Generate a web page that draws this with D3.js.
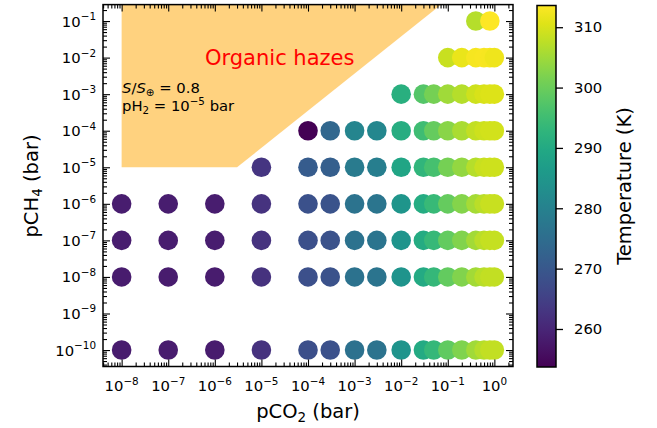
<!DOCTYPE html>
<html><head><meta charset="utf-8">
<script src="https://cdn.jsdelivr.net/npm/d3@7"></script>
<style>body{margin:0;background:#fff}svg{display:block}text{font-family:"DejaVu Sans",sans-serif}</style>
</head><body>
<svg id="c" width="657" height="428"></svg>
<script>
// ---- data ----
const pCO2 = [1e-8, 1e-7, 1e-6, 1e-5, 1e-4, 3e-4, 1e-3, 3e-3, 1e-2, 3e-2, 5e-2, 0.1, 0.2, 0.4, 0.6, 0.8, 1.0];
const pCH4 = [1e-1, 1e-2, 1e-3, 1e-4, 1e-5, 1e-6, 1e-7, 1e-8, 1e-10];
const N = null;
const T_CH4_1e1  = [N,N,N,N,N,N,N,N,N,N,N,N,N, 307.0, N, 313.6, N];
const T_CH4_1e2  = [N,N,N,N,N,N,N,N,N,N,N, 308.5, 311.5, 312.8, 313.0, 312.8, 312.0];
const T_CH4_1e3  = [N,N,N,N,N,N,N,N, 291.5, 297.5, 301.0, 305.0, 307.0, 309.0, 310.0, 310.5, 310.5];
const T_CH4_1e4  = [N,N,N,N, 253.7, 273.5, 281.0, 281.5, 291.0, 295.0, 299.5, 303.0, 306.0, 308.0, 309.0, 309.5, 309.5];
const T_CH4_1e5  = [N,N,N, 263.0, 271.0, 271.5, 278.5, 279.0, 289.0, 293.0, 296.0, 301.0, 304.0, 307.0, 308.5, 309.0, 309.0];
const T_CH4_1e6  = [258.5, 258.5, 258.5, 262.5, 268.5, 269.0, 276.5, 277.0, 285.0, 290.5, 294.0, 299.5, 302.5, 305.5, 307.5, 308.5, 308.5];
const T_CH4_1e7  = [258.4, 258.4, 258.4, 262.4, 268.4, 268.8, 276.3, 276.8, 284.8, 290.3, 293.8, 299.3, 302.3, 305.3, 307.3, 308.3, 308.3];
const T_CH4_1e8  = [258.3, 258.3, 258.3, 262.3, 268.3, 268.7, 276.2, 276.7, 284.7, 290.2, 293.7, 299.2, 302.2, 305.2, 307.2, 308.2, 308.2];
const T_CH4_1e10 = [258.2, 258.2, 258.2, 262.2, 268.2, 268.6, 276.1, 276.6, 284.6, 290.0, 293.5, 299.0, 302.0, 305.0, 307.0, 308.0, 308.0];
const tempRows = [T_CH4_1e1, T_CH4_1e2, T_CH4_1e3, T_CH4_1e4, T_CH4_1e5, T_CH4_1e6, T_CH4_1e7, T_CH4_1e8, T_CH4_1e10];
const hazeX = [1e-8, 3e-6, 0.25, 1e-8];
const hazeY = [1e-5, 1e-5, 1, 1];
const xTickExp = [-8, -7, -6, -5, -4, -3, -2, -1, 0];
const yTickExp = [-1, -2, -3, -4, -5, -6, -7, -8, -9, -10];
const cbTicks = [260, 270, 280, 290, 300, 310];
const tRange = [253.7, 313.6];

// ---- layout ----
const svg = d3.select("#c");
const L = 103, R = 513, T = 4.6, B = 366.5;
const x = d3.scaleLog().domain([Math.pow(10, -8.4), Math.pow(10, 0.4)]).range([L, R]);
const y = d3.scaleLog().domain([Math.pow(10, -10.45), Math.pow(10, -0.55)]).range([B, T]);
const color = d3.scaleSequential(d3.interpolateViridis).domain(tRange);

svg.append("clipPath").attr("id", "clip").append("rect")
  .attr("x", L).attr("y", T).attr("width", R - L).attr("height", B - T);

// haze region
svg.append("path").attr("clip-path", "url(#clip)")
  .attr("d", d3.line().x(d => x(d[0])).y(d => y(d[1]))(hazeX.map((v, i) => [v, hazeY[i]])) + "Z")
  .attr("fill", "#FFA500").attr("fill-opacity", 0.5);

// points
const pts = [];
pCH4.forEach((ch4, r) => pCO2.forEach((co2, c) => {
  const t = tempRows[r][c];
  if (t !== null) pts.push({co2, ch4, t});
}));
svg.append("g").attr("clip-path", "url(#clip)").selectAll("circle").data(pts).join("circle")
  .attr("cx", d => x(d.co2)).attr("cy", d => y(d.ch4)).attr("r", 9.8)
  .attr("fill", d => color(d.t));

// text annotations
svg.append("text").attr("x", 205).attr("y", 65).attr("fill", "red").attr("font-size", 21).text("Organic hazes");
const t1 = svg.append("text").attr("x", 122).attr("y", 93).attr("font-size", 14.8);
t1.append("tspan").attr("font-style", "italic").text("S");
t1.append("tspan").text("/");
t1.append("tspan").attr("font-style", "italic").text("S");
t1.append("tspan").attr("font-size", 10.3).attr("dy", 3).text("⊕");
t1.append("tspan").attr("dy", -3).text(" = 0.8");
const t2 = svg.append("text").attr("x", 122).attr("y", 111).attr("font-size", 14.8);
t2.append("tspan").text("pH");
t2.append("tspan").attr("font-size", 10.3).attr("dy", 3).text("2");
t2.append("tspan").attr("dy", -3).text(" = 10");
t2.append("tspan").attr("font-size", 10.3).attr("dy", -6).text("−5");
t2.append("tspan").attr("dy", 6).text(" bar");

// minor ticks
function minors(lo, hi) {
  const out = [];
  for (let d = lo; d <= hi; d++) for (let k = 2; k <= 9; k++) out.push(k * Math.pow(10, d));
  return out;
}
const xMin = minors(-9, 0).filter(v => v >= x.domain()[0] && v <= x.domain()[1]);
const yMin = minors(-11, -1).filter(v => v >= y.domain()[0] && v <= y.domain()[1]);
const xMaj = xTickExp.map(e => Math.pow(10, e));
const yMaj = yTickExp.map(e => Math.pow(10, e));

function styleAxis(g) { g.select(".domain").remove(); g.selectAll("line").attr("stroke", "#000").attr("stroke-width", 1.1); g.selectAll("text").remove(); }
svg.append("g").attr("transform", `translate(0,${B})`).call(d3.axisBottom(x).tickValues(xMaj).tickSize(-7).tickFormat("")).call(styleAxis);
svg.append("g").attr("transform", `translate(0,${B})`).call(d3.axisBottom(x).tickValues(xMin).tickSize(-4).tickFormat("")).call(styleAxis);
svg.append("g").attr("transform", `translate(0,${T})`).call(d3.axisTop(x).tickValues(xMaj).tickSize(-7).tickFormat("")).call(styleAxis);
svg.append("g").attr("transform", `translate(0,${T})`).call(d3.axisTop(x).tickValues(xMin).tickSize(-4).tickFormat("")).call(styleAxis);
svg.append("g").attr("transform", `translate(${L},0)`).call(d3.axisLeft(y).tickValues(yMaj).tickSize(-7).tickFormat("")).call(styleAxis);
svg.append("g").attr("transform", `translate(${L},0)`).call(d3.axisLeft(y).tickValues(yMin).tickSize(-4).tickFormat("")).call(styleAxis);
svg.append("g").attr("transform", `translate(${R},0)`).call(d3.axisRight(y).tickValues(yMaj).tickSize(-7).tickFormat("")).call(styleAxis);
svg.append("g").attr("transform", `translate(${R},0)`).call(d3.axisRight(y).tickValues(yMin).tickSize(-4).tickFormat("")).call(styleAxis);

// tick labels
xTickExp.forEach(e => {
  const tx = svg.append("text").attr("x", x(Math.pow(10, e))).attr("y", 391).attr("text-anchor", "middle").attr("font-size", 14.8);
  tx.append("tspan").text("10");
  tx.append("tspan").attr("font-size", 10.4).attr("dy", -6.5).text(e < 0 ? "−" + (-e) : String(e));
});
yTickExp.forEach(e => {
  const ty = svg.append("text").attr("x", 96).attr("y", y(Math.pow(10, e)) + 5.5).attr("text-anchor", "end").attr("font-size", 14.8);
  ty.append("tspan").text("10");
  ty.append("tspan").attr("font-size", 10.4).attr("dy", -6.5).text("−" + (-e));
});

// frame
svg.append("rect").attr("x", L).attr("y", T).attr("width", R - L).attr("height", B - T)
  .attr("fill", "none").attr("stroke", "#000").attr("stroke-width", 1.5);

// axis labels
const xl = svg.append("text").attr("x", 308).attr("y", 418).attr("text-anchor", "middle").attr("font-size", 19.5);
xl.append("tspan").text("pCO");
xl.append("tspan").attr("font-size", 13.5).attr("dy", 4).text("2");
xl.append("tspan").attr("dy", -4).text(" (bar)");
const yl = svg.append("text").attr("transform", "translate(38,186) rotate(-90)").attr("text-anchor", "middle").attr("font-size", 19.5);
yl.append("tspan").text("pCH");
yl.append("tspan").attr("font-size", 13.5).attr("dy", 4).text("4");
yl.append("tspan").attr("dy", -4).text(" (bar)");

// colorbar
const cbL = 537, cbW = 19, cbT = 5.5, cbB = 367;
const cy = d3.scaleLinear().domain(tRange).range([cbB, cbT]);
const grad = svg.append("defs").append("linearGradient").attr("id", "vir")
  .attr("x1", 0).attr("y1", 1).attr("x2", 0).attr("y2", 0);
d3.range(0, 1.0001, 0.05).forEach(s => grad.append("stop").attr("offset", s).attr("stop-color", d3.interpolateViridis(s)));
svg.append("rect").attr("x", cbL).attr("y", cbT).attr("width", cbW).attr("height", cbB - cbT).attr("fill", "url(#vir)");
svg.append("rect").attr("x", cbL).attr("y", cbT).attr("width", cbW).attr("height", cbB - cbT)
  .attr("fill", "none").attr("stroke", "#000").attr("stroke-width", 1.5);
const cbAxis = svg.append("g").attr("transform", `translate(${cbL + cbW},0)`)
  .call(d3.axisRight(cy).tickValues(cbTicks).tickSize(7).tickPadding(11));
cbAxis.select(".domain").remove();
cbAxis.selectAll("line").attr("stroke", "#000").attr("stroke-width", 1.3);
cbAxis.selectAll("text").attr("font-size", 14.8).attr("font-family", "DejaVu Sans").attr("fill", "#000");
svg.append("text").attr("transform", "translate(631,186) rotate(-90)").attr("text-anchor", "middle")
  .attr("font-size", 19.5).text("Temperature (K)");
</script>
</body></html>
